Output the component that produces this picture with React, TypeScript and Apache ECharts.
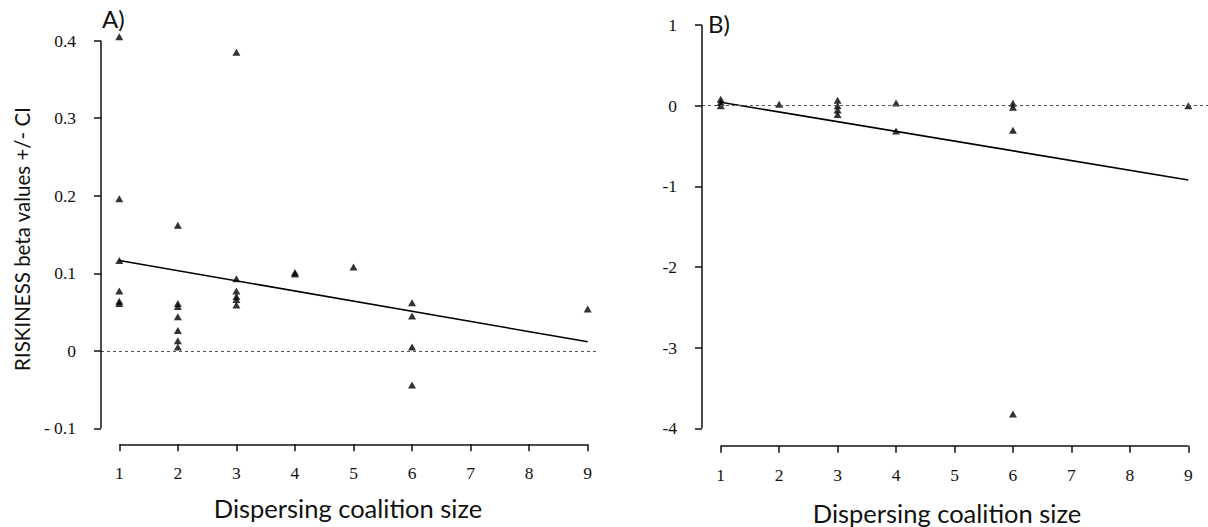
import React, { useEffect, useRef } from "react";
import * as echarts from "echarts";

// Panel A: coalition size -> RISKINESS beta values
const panelAX = [1, 1, 1, 1, 1, 1, 2, 2, 2, 2, 2, 2, 2, 3, 3, 3, 3, 3, 3, 4, 4, 5, 6, 6, 6, 6, 9];
const panelAY = [
  0.405, 0.196, 0.1165, 0.077, 0.064, 0.061,
  0.162, 0.061, 0.057, 0.044, 0.026, 0.013, 0.005,
  0.385, 0.093, 0.077, 0.07, 0.066, 0.059,
  0.101, 0.099,
  0.108,
  0.062, 0.045, 0.005, -0.044,
  0.054,
];
const panelATrend: [number, number][] = [[1, 0.1165], [9, 0.0116]];

// Panel B
const panelBX = [1, 1, 1, 2, 3, 3, 3, 3, 4, 4, 6, 6, 6, 6, 9];
const panelBY = [0.08, 0.04, 0.0, 0.017, 0.067, 0.0, -0.053, -0.11, 0.033, -0.314, 0.03, -0.02, -0.305, -3.823, 0.0];
const panelBTrend: [number, number][] = [[1, 0.042], [9, -0.921]];

// Ticks
const xTicks = [1, 2, 3, 4, 5, 6, 7, 8, 9];
const aTicks = [-0.1, 0, 0.1, 0.2, 0.3, 0.4];
const aTickLabels = ["- 0.1", "0", "0.1", "0.2", "0.3", "0.4"];
const bTicks = [-4, -3, -2, -1, 0, 1];
const bTickLabels = ["-4", "-3", "-2", "-1", "0", "1"];

const xLabel = "Dispersing coalition size";
const yLabel = "RISKINESS beta values +/- CI";

const serifFamily = "Liberation Serif";
const sansFamily = "Lato";

// layout (pixels)
const gridA = { left: 119.3, top: 40.7, width: 468.4, height: 387.6 };
const gridB = { left: 720.7, top: 25, width: 467.6, height: 403.3 };

function App() {
  const ref = useRef<HTMLDivElement>(null);
  useEffect(() => {
    document.body.style.margin = "0";
    if (!ref.current) return;
    const chart = echarts.init(ref.current, null, { renderer: "svg" });

    const hidden = (gridIndex: number, min: number, max: number) => ({
      type: "value",
      gridIndex,
      min,
      max,
      show: false,
      splitLine: { show: false },
    });

    const pts = (xs: number[], ys: number[]) => xs.map((x, i) => [x, ys[i]]);

    const scatterStyle = {
      type: "scatter",
      symbol: "triangle",
      symbolSize: [8, 7],
      itemStyle: { color: "#000" },
      clip: false,
      silent: true,
    };

    const zeroLine = (x0: number, x1: number) => ({
      silent: true,
      symbol: ["none", "none"],
      label: { show: false },
      lineStyle: { type: [3, 3], color: "#555", width: 1.2 },
      data: [[{ x: x0, yAxis: 0 }, { x: x1, yAxis: 0 }]],
    });

    // axis frame drawn as markLines in data/pixel mixed coordinates
    const axisMarks = (grid: any, yTicks: number[], yGap: number, xGap: number) => {
      const ax = grid.left - yGap;
      const ay = grid.top + grid.height + xGap;
      const yMin = yTicks[0];
      const yMax = yTicks[yTicks.length - 1];
      const data: any[] = [];
      data.push([{ x: ax, yAxis: yMin }, { x: ax, yAxis: yMax }]);
      yTicks.forEach((v) => data.push([{ x: ax - 7, yAxis: v }, { x: ax, yAxis: v }]));
      data.push([{ xAxis: xTicks[0], y: ay }, { xAxis: xTicks[xTicks.length - 1], y: ay }]);
      xTicks.forEach((t) => data.push([{ xAxis: t, y: ay }, { xAxis: t, y: ay + 7 }]));
      return {
        silent: true,
        symbol: ["none", "none"],
        label: { show: false },
        lineStyle: { type: "solid", color: "#111", width: 1.5 },
        data,
      };
    };

    const titleStyle = (size: number) => ({
      fontSize: size,
      fontFamily: sansFamily,
      fill: "#111",
      textAlign: "center",
      textVerticalAlign: "middle",
    });

    const titles = [
      { type: "text", x: 348, y: 508, style: { text: xLabel, ...titleStyle(25.5) } },
      { type: "text", x: 947, y: 513, style: { text: xLabel, ...titleStyle(25.5) } },
      { type: "text", x: 22, y: 239, rotation: Math.PI / 2, style: { text: yLabel, ...titleStyle(20.5) } },
      { type: "text", x: 102, y: 18, style: { text: "A)", ...titleStyle(24), textAlign: "left" } },
      { type: "text", x: 708, y: 23, style: { text: "B)", ...titleStyle(24), textAlign: "left" } },
    ];

    chart.setOption({
      animation: false,
      grid: [gridA, gridB],
      xAxis: [hidden(0, 1, 9), hidden(1, 1, 9)],
      yAxis: [hidden(0, -0.1, 0.4), hidden(1, -4, 1)],
      series: [
        {
          type: "line",
          xAxisIndex: 0,
          yAxisIndex: 0,
          data: panelATrend,
          symbol: "none",
          lineStyle: { color: "#000", width: 1.6 },
          silent: true,
          clip: false,
          markLine: zeroLine(101, 598),
        },
        { ...scatterStyle, xAxisIndex: 0, yAxisIndex: 0, data: pts(panelAX, panelAY), markLine: axisMarks(gridA, aTicks, 18.3, 16) },
        {
          type: "line",
          xAxisIndex: 1,
          yAxisIndex: 1,
          data: panelBTrend,
          symbol: "none",
          lineStyle: { color: "#000", width: 1.6 },
          silent: true,
          clip: false,
          markLine: zeroLine(702, 1208),
        },
        { ...scatterStyle, xAxisIndex: 1, yAxisIndex: 1, data: pts(panelBX, panelBY), markLine: axisMarks(gridB, bTicks, 18.7, 17.4) },
      ],
      graphic: titles,
    });

    // tick labels placed through the library's coordinate conversion
    const labelEls: any[] = [];
    const addLabels = (gi: number, grid: any, yTicks: number[], yLabels: string[], yGap: number, xGap: number) => {
      const px = (x: number, y: number) =>
        chart.convertToPixel({ xAxisIndex: gi, yAxisIndex: gi }, [x, y]) as number[];
      const ax = grid.left - yGap;
      const ay = grid.top + grid.height + xGap;
      yTicks.forEach((v, i) => {
        labelEls.push({
          type: "text",
          x: ax - 25,
          y: px(xTicks[0], v)[1],
          style: {
            text: yLabels[i],
            fontSize: 17.5,
            fontFamily: serifFamily,
            fill: "#111",
            textAlign: "right",
            textVerticalAlign: "middle",
          },
        });
      });
      xTicks.forEach((t) => {
        labelEls.push({
          type: "text",
          x: px(t, yTicks[0])[0],
          y: ay + 29,
          style: {
            text: String(t),
            fontSize: 17.5,
            fontFamily: serifFamily,
            fill: "#111",
            textAlign: "center",
            textVerticalAlign: "middle",
          },
        });
      });
    };
    addLabels(0, gridA, aTicks, aTickLabels, 18.3, 16);
    addLabels(1, gridB, bTicks, bTickLabels, 18.7, 17.4);

    chart.setOption({ graphic: [...titles, ...labelEls] });

    return () => chart.dispose();
  }, []);
  return <div ref={ref} style={{ width: 1208, height: 527 }} />;
}

export default App;
